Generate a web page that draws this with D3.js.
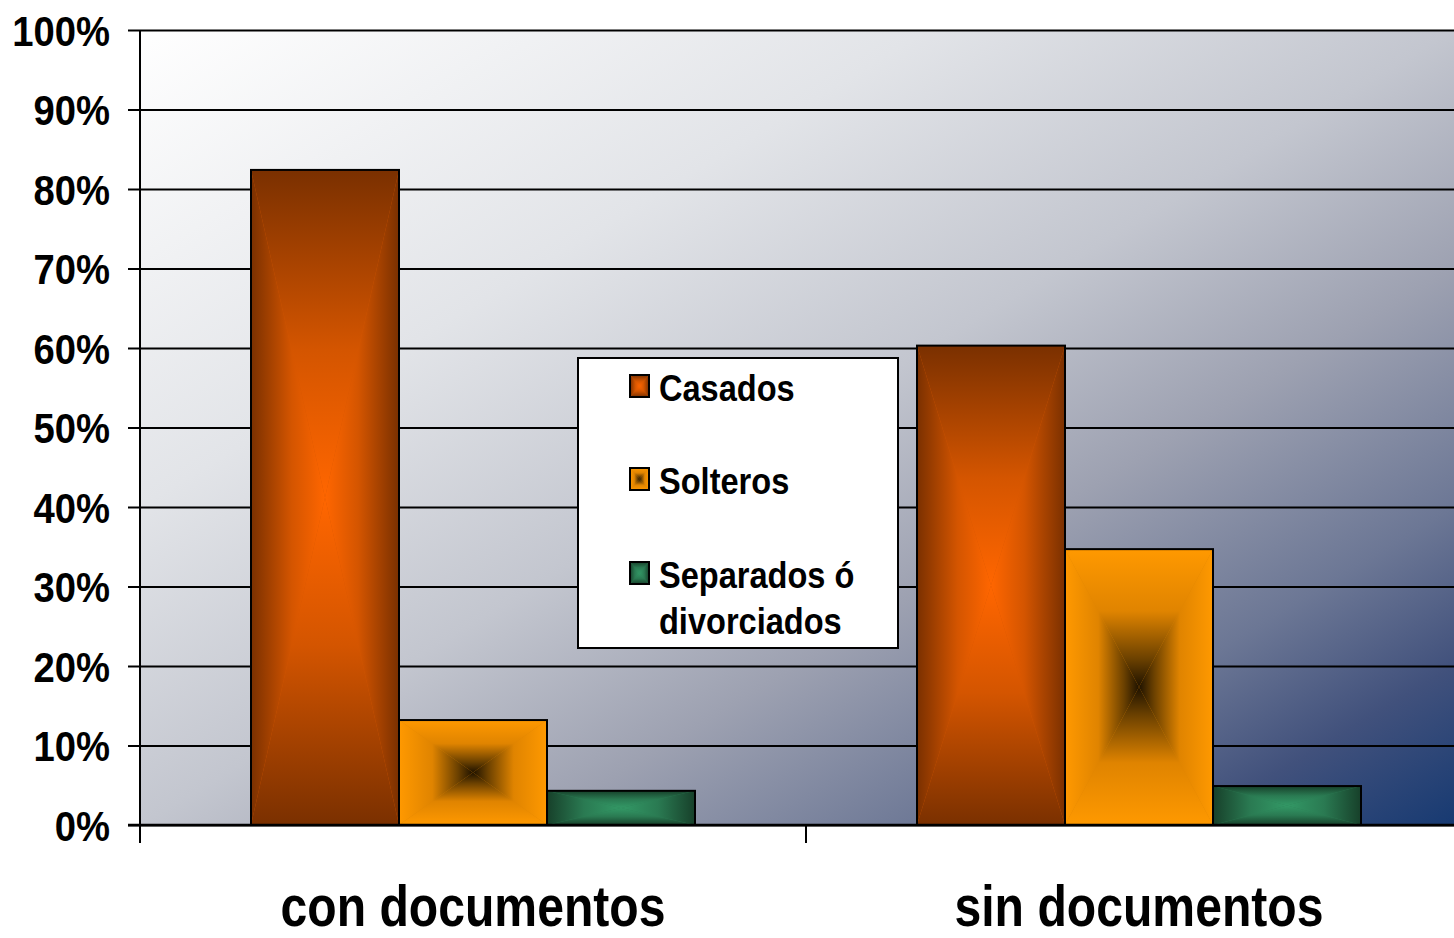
<!DOCTYPE html>
<html>
<head>
<meta charset="utf-8">
<script src="https://cdn.jsdelivr.net/npm/d3@7"></script>
<style>
html, body { margin: 0; padding: 0; background: #fff; }
svg text {
    font-family: 'Liberation Sans', Arial, sans-serif;
    font-weight: bold;
    fill: #000;
}
</style>
</head>
<body>
<svg id="chart" width="1454" height="938"></svg>
<script>
'use strict';

const categories = ['con documentos', 'sin documentos'];
const seriesNames = ['Casados', 'Solteros', 'Separados ó divorciados'];
const casados = [0.824, 0.603];
const solteros = [0.132, 0.347];
const separados = [0.043, 0.049];
const yTicks = [0, 0.1, 0.2, 0.3, 0.4, 0.5, 0.6, 0.7, 0.8, 0.9, 1];

(function() {
    const d3 = window.d3;
    const svg = d3.select('#chart');
    const W = 1454;
    const plot = {left: 140, top: 30, bottom: 825, right: 1472};

    const series = [casados, solteros, separados];

    // path ("from center") gradients: edge colour -> centre colour
    const looks = [
        {key: 'cas', stops: [[0, '#7a3000'], [0.55, '#d45500'], [1, '#ff6600']]},
        {key: 'sol', stops: [[0, '#ff9900'], [0.45, '#e08400'], [0.8, '#6a4000'], [1, '#1e1200']]},
        {key: 'sep', stops: [[0, '#17402a'], [0.5, '#2a7a52'], [1, '#339966']]}
    ];

    // squeeze text horizontally (no narrow font available)
    function narrow(sel, sx) {
        sel.each(function() {
            const t = d3.select(this);
            const x = +t.attr('x') || 0;
            t.attr('x', x / sx).attr('transform', 'scale(' + sx + ',1)');
            t.selectAll('tspan').each(function() {
                const ts = d3.select(this);
                if (ts.attr('x') !== null) ts.attr('x', +ts.attr('x') / sx);
            });
        });
    }

    const x0 = d3.scaleBand()
        .domain(categories)
        .range([plot.left, plot.right])
        .paddingInner(1 / 3)
        .paddingOuter(1 / 6);

    const x1 = d3.scaleBand()
        .domain(d3.range(series.length))
        .range([0, x0.bandwidth()]);

    const y = d3.scaleLinear()
        .domain([0, 1])
        .range([plot.bottom, plot.top]);

    const defs = svg.append('defs');

    const bg = defs.append('linearGradient')
        .attr('id', 'bg')
        .attr('x1', 0).attr('y1', 0).attr('x2', 1).attr('y2', 1);
    [[0, '#ffffff'], [0.3, '#e2e4e8'], [0.5, '#c3c6cf'], [0.65, '#9da1b1'],
        [0.8, '#6c7795'], [0.9, '#41517c'], [1, '#173a72']].forEach(s => {
        bg.append('stop').attr('offset', s[0]).attr('stop-color', s[1]);
    });

    const dirs = {
        t: [0, 0, 0, 1],
        b: [0, 1, 0, 0],
        l: [0, 0, 1, 0],
        r: [1, 0, 0, 0]
    };
    looks.forEach(lk => {
        Object.keys(dirs).forEach(k => {
            const g = defs.append('linearGradient')
                .attr('id', lk.key + '-' + k)
                .attr('x1', dirs[k][0]).attr('y1', dirs[k][1])
                .attr('x2', dirs[k][2]).attr('y2', dirs[k][3]);
            lk.stops.forEach(s => {
                g.append('stop').attr('offset', s[0]).attr('stop-color', s[1]);
            });
        });
    });

    function pathBox(g, x, yy, w, h, lk) {
        const cx = x + w / 2;
        const cy = yy + h / 2;
        g.append('rect')
            .attr('x', x).attr('y', yy).attr('width', w).attr('height', h)
            .attr('fill', lk.stops[1][1]);
        const tris = {
            t: [[x, yy], [x + w, yy], [cx, cy]],
            b: [[x, yy + h], [x + w, yy + h], [cx, cy]],
            l: [[x, yy], [x, yy + h], [cx, cy]],
            r: [[x + w, yy], [x + w, yy + h], [cx, cy]]
        };
        Object.keys(tris).forEach(k => {
            g.append('path')
                .attr('d', 'M' + tris[k].join('L') + 'Z')
                .attr('fill', 'url(#' + lk.key + '-' + k + ')');
        });
        g.append('rect')
            .attr('x', x).attr('y', yy).attr('width', w).attr('height', h)
            .attr('fill', 'none')
            .attr('stroke', '#000')
            .attr('stroke-width', 2);
    }

    // plot background
    svg.append('rect')
        .attr('x', plot.left)
        .attr('y', plot.top)
        .attr('width', W - plot.left)
        .attr('height', plot.bottom - plot.top)
        .attr('fill', 'url(#bg)');

    // gridlines
    svg.append('g')
        .attr('transform', 'translate(' + plot.left + ',0)')
        .call(d3.axisLeft(y)
            .tickValues(yTicks)
            .tickFormat('')
            .tickSize(-(W - plot.left)))
        .call(g => g.select('.domain').remove())
        .selectAll('line')
        .attr('stroke', '#000')
        .attr('stroke-width', 2);

    // bars
    categories.forEach((c, ci) => {
        series.forEach((s, si) => {
            pathBox(svg.append('g'),
                x0(c) + x1(si), y(s[ci]),
                x1.bandwidth(), y(0) - y(s[ci]),
                looks[si]);
        });
    });

    // y axis
    const yAxis = svg.append('g')
        .attr('transform', 'translate(' + plot.left + ',0)')
        .call(d3.axisLeft(y)
            .tickValues(yTicks)
            .tickFormat(d3.format('.0%'))
            .tickSize(12)
            .tickPadding(18));
    yAxis.select('.domain').remove();
    yAxis.selectAll('line').attr('stroke', '#000').attr('stroke-width', 2);
    yAxis.selectAll('text')
        .attr('font-size', 42)
        .attr('dy', '0.36em')
        .style('font-family', null)
        .call(narrow, 0.91);

    svg.append('line')
        .attr('x1', plot.left).attr('x2', plot.left)
        .attr('y1', plot.top).attr('y2', plot.bottom + 18)
        .attr('stroke', '#000').attr('stroke-width', 2);

    // x axis
    svg.append('line')
        .attr('x1', plot.left - 12).attr('x2', W)
        .attr('y1', y(0)).attr('y2', y(0))
        .attr('stroke', '#000').attr('stroke-width', 2.5);

    svg.append('g').selectAll('line')
        .data(d3.range(categories.length + 1))
        .enter()
        .append('line')
        .attr('x1', i => plot.left + i * x0.step())
        .attr('x2', i => plot.left + i * x0.step())
        .attr('y1', y(0))
        .attr('y2', y(0) + 18)
        .attr('stroke', '#000')
        .attr('stroke-width', 2);

    svg.append('g').selectAll('text')
        .data(categories)
        .enter()
        .append('text')
        .attr('x', d => x0(d) + x0.bandwidth() / 2)
        .attr('y', 926)
        .attr('text-anchor', 'middle')
        .attr('font-size', 58)
        .text(d => d)
        .call(narrow, 0.83);

    // legend
    const legend = svg.append('g').attr('transform', 'translate(578,358)');
    legend.append('rect')
        .attr('width', 320)
        .attr('height', 290)
        .attr('fill', '#fff')
        .attr('stroke', '#000')
        .attr('stroke-width', 2);

    const rowBase = [42, 135, 229];
    seriesNames.forEach((name, i) => {
        pathBox(legend.append('g'), 52, rowBase[i] - 25, 19, 22, looks[i]);
        const t = legend.append('text')
            .attr('x', 81)
            .attr('y', rowBase[i])
            .attr('font-size', 37)
            .attr('dy', 1);
        const words = name.split(' ');
        if (words.length > 2) {
            t.append('tspan').text(words.slice(0, 2).join(' '));
            t.append('tspan').attr('x', 81).attr('dy', 46).text(words.slice(2).join(' '));
        } else {
            t.text(name);
        }
        t.call(narrow, 0.88);
    });
}());
</script>
</body>
</html>
